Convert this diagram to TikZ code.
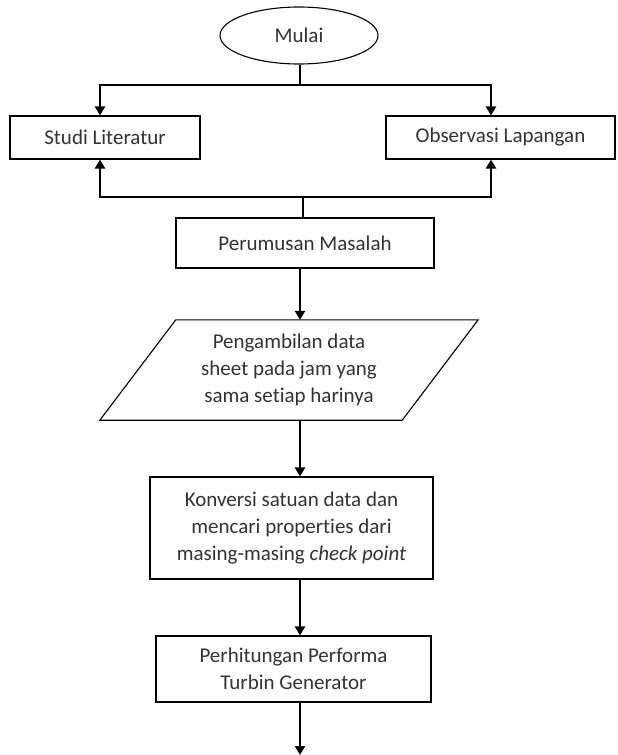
\documentclass[tikz,border=0pt]{standalone}
\usepackage{fontspec}
\setmainfont[Ligatures=NoCommon]{Carlito}
\usetikzlibrary{arrows.meta,shapes.geometric}
\begin{document}
\begin{tikzpicture}[x=1pt,y=-1pt,
  font=\fontsize{21}{26.7}\selectfont,
  txt/.style={text=black!80, align=center, inner sep=0pt},
  box/.style={txt, draw=black, line width=1.1pt, rectangle},
  conn/.style={draw=black, line width=2.6pt},
  arr/.style={conn, -{Triangle[width=10pt,length=9pt]}}]
\path[use as bounding box, fill=white] (0,0) rectangle (618,755);
% nodes
\node[txt, draw=black, line width=1.1pt, ellipse, minimum width=158, minimum height=57] (mulai) at (299,35.5) {Mulai};
\node[box, minimum width=190, minimum height=43] (studi) at (105,137.5) {Studi Literatur};
\node[box, minimum width=229, minimum height=43] (obs) at (500.5,137.5) {Observasi Lapangan};
\node[box, minimum width=258, minimum height=50] (perum) at (305,243) {Perumusan Masalah};
\node[txt, minimum width=302, minimum height=100] (pgram) at (289,370) {Pengambilan data\\sheet pada jam yang\\sama setiap harinya};
\draw[line width=1.1pt, line join=miter]
  ([xshift=38]pgram.north west) -- ([xshift=38]pgram.north east)
  -- ([xshift=-38]pgram.south east) -- ([xshift=-38]pgram.south west) -- cycle;
\node[box, minimum width=283, minimum height=102] (konv) at (291.5,528) {Konversi satuan data dan\\mencari properties dari\\masing-masing \textit{check point}};
\node[box, minimum width=275, minimum height=66] (perh) at (293.5,669) {Perhitungan Performa\\Turbin Generator};
% junction coordinates
\coordinate (jt) at (300,85);
\coordinate (lt) at (100,85);
\coordinate (rt) at (491,85);
\coordinate (lb) at (100,197);
\coordinate (rb) at (491,197);
\coordinate (jb) at (303,197);
\coordinate (ax) at (300,0);
\coordinate (endc) at (300,755);
% connectors
\draw[conn] (mulai.south -| jt) -- (jt);
\draw[conn, line cap=rect] (lt) -- (rt);
\draw[arr] (lt) -- (lt |- studi.north);
\draw[arr] (rt) -- (rt |- obs.north);
\draw[conn, line cap=rect] (lb) -- (rb);
\draw[arr] (lb) -- (lb |- studi.south);
\draw[arr] (rb) -- (rb |- obs.south);
\draw[conn] (jb) -- (perum.north -| jb);
\draw[arr] (perum.south -| ax) -- (pgram.north -| ax);
\draw[arr] (pgram.south -| ax) -- (konv.north -| ax);
\draw[arr] (konv.south -| ax) -- (perh.north -| ax);
\draw[arr] (perh.south -| ax) -- (endc);
\end{tikzpicture}
\end{document}
